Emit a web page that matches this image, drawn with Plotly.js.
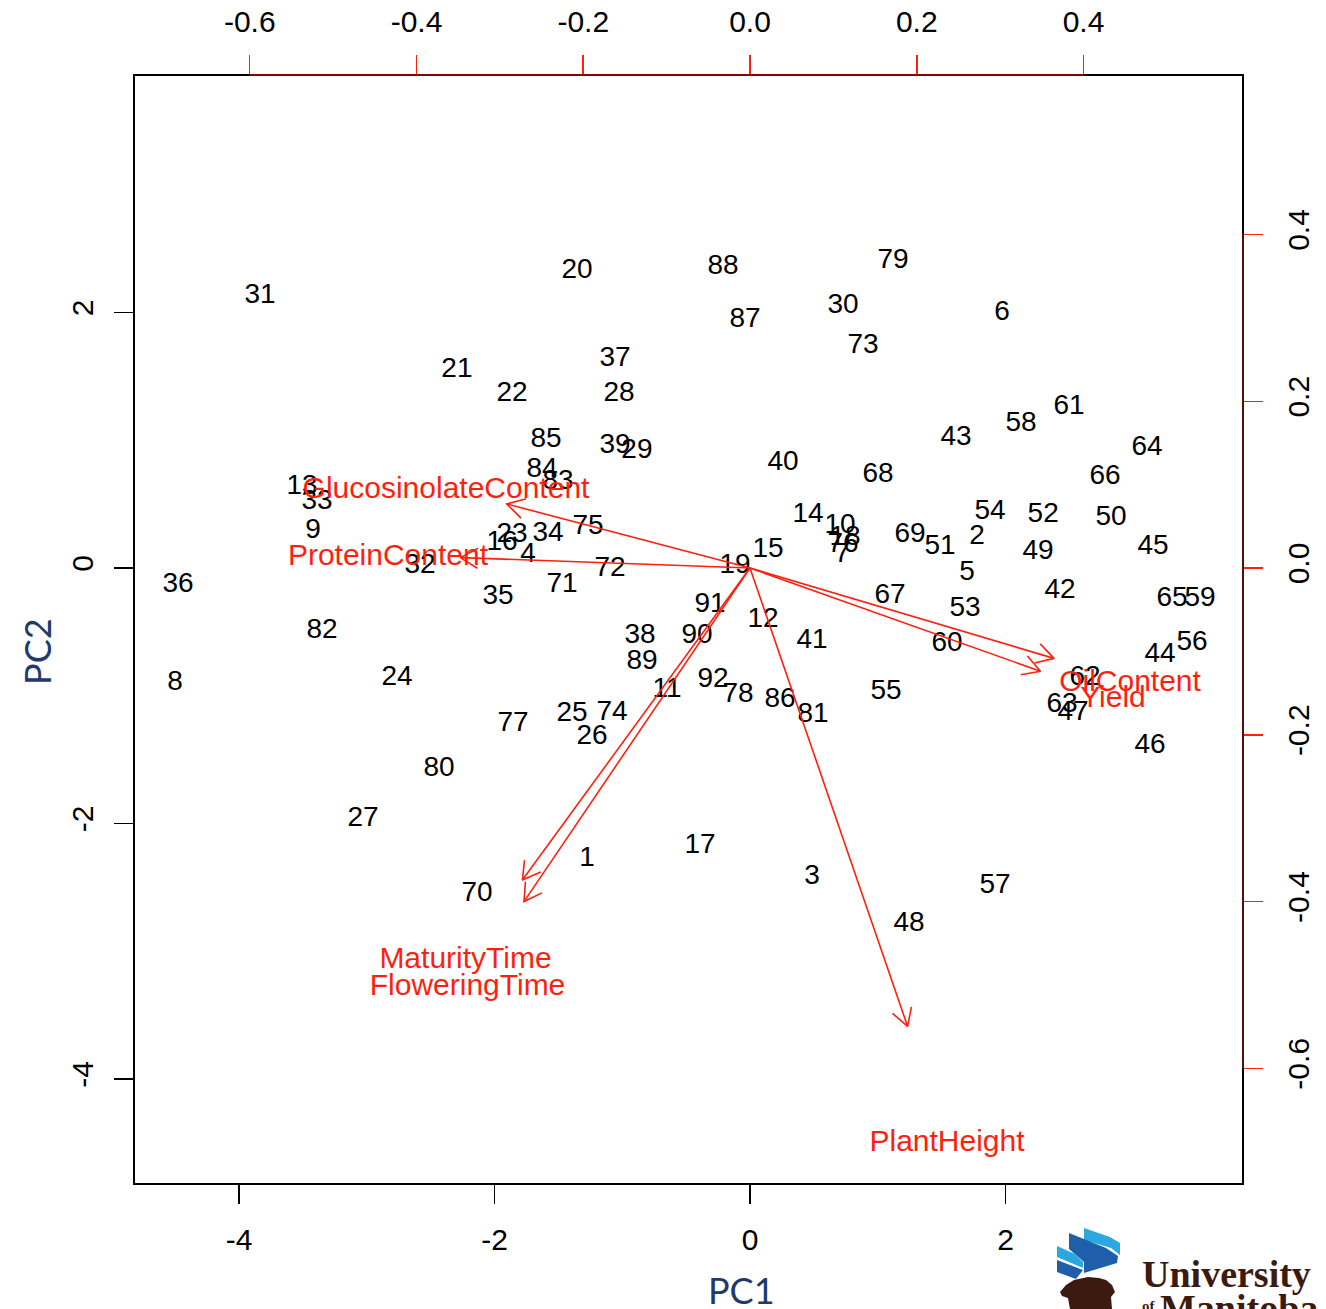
<!DOCTYPE html>
<html>
<head>
<meta charset="utf-8">
<script src="https://cdn.plot.ly/plotly-3.0.1.min.js"></script>
<style>
  html, body { margin: 0; padding: 0; background: #fff; }
  #plot { width: 1326px; height: 1309px; }
</style>
</head>
<body>
<div id="plot"></div>
<script>
// PCA biplot: observation scores (PC1/PC2) with variable loading arrows.

// Observation labels and their scores
const obsIds = Array.from({length: 92}, (_, i) => String(i + 1));
const pc1 = [
  -1.276, 1.777, 0.485, -1.738, 1.699, 1.973, 0.720, -4.501, -3.421, 0.705,
  -0.650, 0.102, -3.507, 0.454, 0.141, -1.941, -0.391, 0.744, -0.117, -1.354,
  -2.294, -1.863, -1.863, -2.763, -1.393, -1.237, -3.029, -1.025, -0.885, 0.728,
  -3.836, -2.583, -3.389, -1.581, -1.973, -4.477, -1.057, -0.861, -1.057, 0.258,
  0.485, 2.427, 1.613, 3.209, 3.155, 3.131, 2.528, 1.245, 2.254, 2.826,
  1.487, 2.295, 1.683, 1.879, 1.065, 3.460, 1.918, 2.121, 3.523, 1.542,
  2.497, 2.622, 2.442, 3.108, 3.303, 2.779, 1.096, 1.002, 1.252, -2.137,
  -1.471, -1.096, 0.885, -1.080, -1.268, 0.728, -1.855, -0.094, 1.119, -2.434,
  0.493, -3.350, -1.503, -1.628, -1.597, 0.235, -0.039, -0.211, -0.845, -0.415,
  -0.313, -0.290
];
const pc2 = [
  -2.262, 0.266, -2.403, 0.125, -0.016, 2.012, 0.125, -0.877, 0.313, 0.352,
  -0.932, -0.391, 0.657, 0.431, 0.157, 0.219, -2.160, 0.258, 0.039, 2.348,
  1.573, 1.378, 0.274, -0.845, -1.127, -1.307, -1.949, 1.378, 0.939, 2.067,
  2.145, 0.039, 0.540, 0.282, -0.211, -0.110, 1.659, -0.509, 0.978, 0.845,
  -0.548, -0.157, 1.041, -0.658, 0.180, -1.370, -1.112, -2.771, 0.141, 0.407,
  0.180, 0.431, -0.305, 0.454, -0.955, -0.564, -2.466, 1.143, -0.227, -0.579,
  1.276, -0.838, -1.049, 0.955, -0.227, 0.728, -0.196, 0.751, 0.274, -2.536,
  -0.117, 0.008, 1.761, -1.112, 0.337, 0.196, -1.198, -0.978, 2.419, -1.550,
  -1.135, -0.470, 0.689, 0.783, 1.018, -1.010, 1.957, 2.372, -0.720, -0.509,
  -0.274, -0.861
];

// Variable loadings
const varNames = ['GlucosinolateContent', 'ProteinContent', 'MaturityTime',
  'FloweringTime', 'PlantHeight', 'OilContent', 'Yield'];
const loadPC1 = [-0.3646, -0.4342, -0.3412, -0.3388, 0.2363, 0.4558, 0.4354];
const loadPC2 = [0.0960, 0.0156, -0.4678, -0.5001, -0.6873, -0.1355, -0.1547];

// Axis ticks
const scoreTicks = [-4, -2, 0, 2];
const scoreTickText = ['-4', '-2', '0', '2'];
const loadTicks = [-0.6, -0.4, -0.2, 0.0, 0.2, 0.4];
const loadTickText = ['-0.6', '-0.4', '-0.2', '0.0', '0.2', '0.4'];

const RED = '#ff1f0f';
const FONT = 'Liberation Sans, Arial, Helvetica, sans-serif';
const scoreRange = [-4.822, 3.859];
const loadRange = [-0.7388, 0.5913];

// Arrows drawn to 0.8 of each loading, with open heads
const arrowScale = 0.8;
const headLen = 0.024;
const headAng = Math.PI / 6;
const ax = [], ay = [];
for (let i = 0; i < varNames.length; i++) {
  const tx = loadPC1[i] * arrowScale, ty = loadPC2[i] * arrowScale;
  const th = Math.atan2(ty, tx);
  ax.push(0, tx, null);
  ay.push(0, ty, null);
  ax.push(tx - headLen * Math.cos(th - headAng), tx, tx - headLen * Math.cos(th + headAng), null);
  ay.push(ty - headLen * Math.sin(th - headAng), ty, ty - headLen * Math.sin(th + headAng), null);
}

const traces = [
  {
    type: 'scatter', mode: 'text', x: pc1, y: pc2, text: obsIds,
    textposition: 'middle center',
    textfont: {family: FONT, size: 28, color: '#000'},
    xaxis: 'x', yaxis: 'y', hoverinfo: 'skip', cliponaxis: false
  },
  {
    type: 'scatter', mode: 'lines', x: ax, y: ay,
    line: {color: RED, width: 1.6},
    xaxis: 'x2', yaxis: 'y2', hoverinfo: 'skip'
  },
  {
    type: 'scatter', mode: 'text', x: loadPC1, y: loadPC2, text: varNames,
    textposition: 'middle center',
    textfont: {family: FONT, size: 30, color: RED},
    xaxis: 'x2', yaxis: 'y2', hoverinfo: 'skip', cliponaxis: false
  }
];

const baseAxis = {
  showgrid: false, zeroline: false, showline: false,
  ticks: 'outside', ticklen: 19, tickwidth: 1.5,
  tickfont: {family: FONT, size: 30, color: '#000'}
};

// Logo drawn in pixel space, converted to paper fractions
const L = 134, T = 75, W = 1109, H = 1109;
function px(p) { return ((p[0] - L) / W).toFixed(5) + ',' + ((T + H - p[1]) / H).toFixed(5); }
function poly(pts) { return 'M' + pts.map(px).join('L') + 'Z'; }
const logoShapes = [
  {fill: '#2aa8df', pts: [[1084,1228],[1110,1237],[1120,1243],[1120,1255],[1111,1248],[1084,1240]]},
  {fill: '#1f5ea8', pts: [[1069,1233],[1106,1248],[1118,1256],[1117,1263],[1084,1273],[1084,1262],[1069,1249]]},
  {fill: '#2aa8df', pts: [[1057,1246],[1075,1254],[1083,1262],[1083,1268],[1057,1257]]},
  {fill: '#1f5ea8', pts: [[1057,1260],[1083,1270],[1076,1279],[1057,1272]]},
  {fill: '#3c1a10', pts: [[1060,1292],[1066,1285],[1074,1280],[1088,1277],[1099,1278],[1106,1280],[1112,1285],[1115,1292],[1111,1297],[1112,1309],[1070,1309],[1068,1298],[1062,1296]]}
].map(s => ({type: 'path', xref: 'paper', yref: 'paper', path: poly(s.pts),
  fillcolor: s.fill, line: {width: 0}, layer: 'above'}));

const layout = {
  width: 1326, height: 1309,
  margin: {l: 134, r: 83, t: 75, b: 125, pad: 0},
  paper_bgcolor: '#fff', plot_bgcolor: '#fff',
  showlegend: false,
  xaxis: Object.assign({}, baseAxis, {
    range: scoreRange, tickvals: scoreTicks, ticktext: scoreTickText,
    tickcolor: '#000', side: 'bottom', anchor: 'y', ticklabelstandoff: 10
  }),
  yaxis: Object.assign({}, baseAxis, {
    range: scoreRange, tickvals: scoreTicks, ticktext: scoreTickText,
    tickcolor: '#000', side: 'left', anchor: 'x', tickangle: -90, ticklabelstandoff: 9
  }),
  xaxis2: Object.assign({}, baseAxis, {
    range: loadRange, tickvals: loadTicks, ticktext: loadTickText,
    tickcolor: RED, side: 'top', overlaying: 'x', anchor: 'y', ticklabelstandoff: 11
  }),
  yaxis2: Object.assign({}, baseAxis, {
    range: loadRange, tickvals: loadTicks, ticktext: loadTickText,
    tickcolor: RED, side: 'right', overlaying: 'y', anchor: 'x', tickangle: -90, ticklabelstandoff: 10
  }),
  shapes: [
    {type: 'rect', xref: 'paper', yref: 'paper', x0: 0, x1: 1, y0: 0, y1: 1,
     line: {color: '#000', width: 2}, layer: 'above'},
    {type: 'line', xref: 'x2', yref: 'paper', x0: loadTicks[0], x1: loadTicks[loadTicks.length - 1],
     y0: 1, y1: 1, line: {color: '#8b0000', width: 2}, layer: 'above'},
    {type: 'line', xref: 'paper', yref: 'y2', y0: loadTicks[0], y1: loadTicks[loadTicks.length - 1],
     x0: 1, x1: 1, line: {color: '#5a0a05', width: 2}, layer: 'above'}
  ].concat(logoShapes),
  annotations: [
    {text: 'PC1', xref: 'paper', yref: 'paper', x: 0.5474, y: -0.0956,
     xanchor: 'center', yanchor: 'middle', showarrow: false,
     font: {family: 'Lato, Open Sans, sans-serif', size: 36, color: '#1f3a6b'}},
    {text: 'PC2', xref: 'paper', yref: 'paper', x: -0.0875, y: 0.4806,
     xanchor: 'center', yanchor: 'middle', showarrow: false, textangle: -90,
     font: {family: 'Lato, Open Sans, sans-serif', size: 36, color: '#1f3a6b'}},
    {text: '<b>University</b>', xref: 'paper', yref: 'paper', x: 0.9071, y: -0.0812,
     xanchor: 'left', yanchor: 'middle', showarrow: false,
     font: {family: 'Liberation Serif, DejaVu Serif, serif', size: 38, color: '#3c1a10'}},
    {text: '<b>Manitoba</b>', xref: 'paper', yref: 'paper', x: 0.9234, y: -0.0912,
     xanchor: 'left', yanchor: 'top', showarrow: false,
     font: {family: 'Liberation Serif, DejaVu Serif, serif', size: 38, color: '#3c1a10'}},
    {text: '<b>of</b>', xref: 'paper', yref: 'paper', x: 0.9071, y: -0.101,
     xanchor: 'left', yanchor: 'top', showarrow: false,
     font: {family: 'Liberation Serif, DejaVu Serif, serif', size: 15, color: '#3c1a10'}}
  ]
};

Plotly.newPlot('plot', traces, layout, {displayModeBar: false, staticPlot: true}).then(gd => {
  // Centre text labels on their glyph middles (slight downward nudge)
  gd.querySelectorAll('.scatterlayer .textpoint text').forEach(t => {
    const y = parseFloat(t.getAttribute('y'));
    if (!isNaN(y)) t.setAttribute('y', y + 2.5);
  });
});
</script>
</body>
</html>
